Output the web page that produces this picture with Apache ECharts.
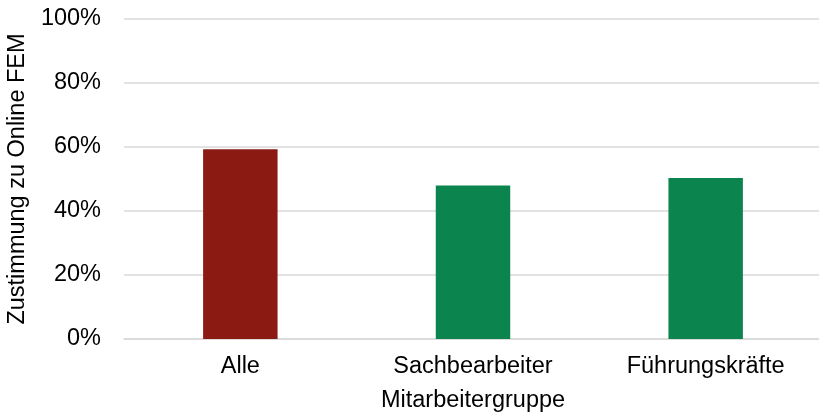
<!DOCTYPE html>
<html>
<head>
<meta charset="utf-8">
<script src="https://cdn.jsdelivr.net/npm/echarts@6/dist/echarts.min.js"></script>
<style>
  html, body { margin: 0; padding: 0; background: #ffffff; }
  #chart { width: 819px; height: 417px; }
</style>
</head>
<body>
<div id="chart"></div>
<script>
// Zustimmung je Mitarbeitergruppe (Anteil in %)
const categories = ['Alle', 'Sachbearbeiter', 'Führungskräfte'];
const values = [59.3, 48.0, 50.3];
const barColors = ['#8B1B12', '#0C844D', '#0C844D'];
const yTicks = [0, 20, 40, 60, 80, 100];

const chart = echarts.init(document.getElementById('chart'), null, { renderer: 'canvas' });
const font = 'Liberation Sans, Arial, sans-serif';
const fs = 23.5;

chart.setOption({
  animation: false,
  grid: { left: 124, top: 19, width: 698, height: 320, containLabel: false, outerBoundsMode: 'none' },
  xAxis: {
    type: 'category',
    data: categories,
    name: 'Mitarbeitergruppe',
    nameLocation: 'middle',
    nameGap: 50,
    nameTextStyle: { fontFamily: font, fontSize: fs, color: '#000' },
    axisLine: { show: true, lineStyle: { color: '#d9d9d9', width: 1.5 } },
    axisTick: { show: false },
    axisLabel: { fontFamily: font, fontSize: fs, color: '#000', margin: 16 }
  },
  yAxis: {
    type: 'value',
    min: yTicks[0],
    max: yTicks[yTicks.length - 1],
    interval: 20,
    name: 'Zustimmung zu Online FEM',
    nameLocation: 'middle',
    nameGap: 86,
    nameTextStyle: { fontFamily: font, fontSize: fs, color: '#000' },
    axisLine: { show: false },
    axisTick: { show: false },
    axisLabel: { fontFamily: font, fontSize: fs, color: '#000', margin: 23, formatter: '{value}%' },
    splitLine: { lineStyle: { color: '#d9d9d9', width: 1.5 } }
  },
  series: [{
    type: 'bar',
    barWidth: '32%',
    data: values.map((v, i) => ({ value: v, itemStyle: { color: barColors[i] } }))
  }]
});
</script>
</body>
</html>
